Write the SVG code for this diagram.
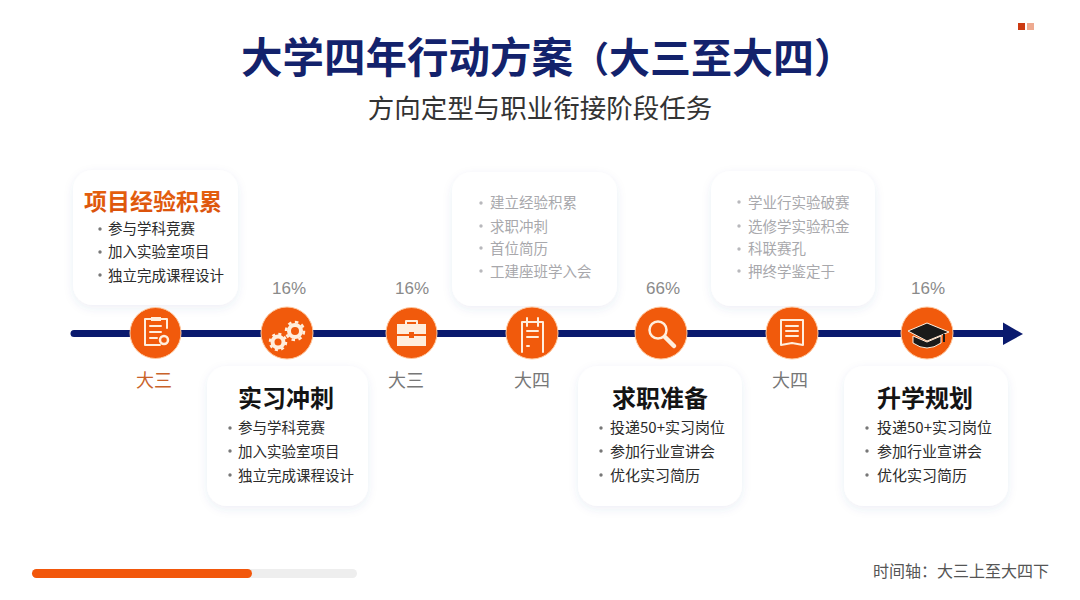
<svg xmlns="http://www.w3.org/2000/svg" width="1080" height="600" viewBox="0 0 1080 600">
<defs>
<style>
text{font-family:"Noto Sans CJK SC","Liberation Sans",sans-serif}
.card{fill:#fff;filter:url(#sh)}
.ct{font-size:24px;font-weight:700;fill:#141414;text-anchor:middle}
.it{font-size:14.5px;fill:#2b2b2b}
.wide{font-size:15px}
.dot{fill:#777}
.faded .it{fill:#a8a8ac}
.faded .dot{fill:#b8b8bc}
.n{fill:#f15a0c;stroke:#ffc9a0;stroke-width:1}
.pct{font-size:17px;fill:#8a8a8a;text-anchor:middle;font-family:"Liberation Sans",sans-serif}
.yr{font-size:18px;fill:#777;text-anchor:middle}
.ic{fill:none;stroke:#ffeedd;stroke-width:2;stroke-linejoin:round;stroke-linecap:round}
.if{fill:#ffeedd}
</style>
<filter id="sh" x="-15%" y="-15%" width="130%" height="135%"><feDropShadow dx="0" dy="3" stdDeviation="5" flood-color="#3a4a9a" flood-opacity="0.09"/></filter>
<linearGradient id="tg" x1="0" y1="0" x2="0" y2="1"><stop offset="0" stop-color="#e8640f"/><stop offset="1" stop-color="#d9500a"/></linearGradient>
</defs>
<rect width="1080" height="600" fill="#fff"/>
<g id="header">
<text x="241" y="73" font-size="41.500" font-weight="700" fill="#13226c">大学四年行动方案<tspan font-size="36">（</tspan><tspan font-size="41">大三至大四）</tspan></text>
<text x="540" y="118" font-size="26.500" fill="#333" text-anchor="middle">方向定型与职业衔接阶段任务</text>
<rect x="1018" y="23" width="7" height="7" fill="#cc3a12"/><rect x="1027" y="23" width="7" height="7" fill="#eeaa90"/>
</g>
<g id="connectors">
<line x1="74" y1="333.500" x2="1006" y2="333.500" stroke="#0a1a6e" stroke-width="7" stroke-linecap="round"/>
<path d="M1003 322.500L1023 334L1003 345Z" fill="#0a1a6e"/>
</g>
<g id="card-1">
<rect class="card" x="73" y="170" width="165" height="135" rx="20"/>
<text x="153" y="210" font-size="23" font-weight="700" fill="url(#tg)" text-anchor="middle">项目经验积累</text>
<circle class="dot" cx="100" cy="229" r="1.700"/><text class="it" x="108" y="234">参与学科竞赛</text>
<circle class="dot" cx="100" cy="252" r="1.700"/><text class="it" x="108" y="257">加入实验室项目</text>
<circle class="dot" cx="100" cy="275" r="1.700"/><text class="it" x="108" y="281">独立完成课程设计</text>
</g>
<g id="card-2">
<rect class="card" x="207" y="366" width="161" height="140" rx="20"/>
<text class="ct" x="286" y="407">实习冲刺</text>
<circle class="dot" cx="230" cy="428" r="1.700"/><text class="it" x="238" y="433">参与学科竞赛</text>
<circle class="dot" cx="230" cy="451" r="1.700"/><text class="it" x="238" y="457">加入实验室项目</text>
<circle class="dot" cx="230" cy="475" r="1.700"/><text class="it" x="238" y="481">独立完成课程设计</text>
</g>
<g id="card-3" class="faded">
<rect class="card" x="452" y="172" width="165" height="134" rx="20"/>
<circle class="dot" cx="481" cy="203" r="1.700"/><text class="it" x="490" y="208">建立经验积累</text>
<circle class="dot" cx="481" cy="226" r="1.700"/><text class="it" x="490" y="232">求职冲刺</text>
<circle class="dot" cx="481" cy="248" r="1.700"/><text class="it" x="490" y="254">首位简历</text>
<circle class="dot" cx="481" cy="271" r="1.700"/><text class="it" x="490" y="277">工建座班学入会</text>
</g>
<g id="card-4">
<rect class="card" x="578" y="366" width="164" height="140" rx="20"/>
<text class="ct" x="660" y="407">求职准备</text>
<circle class="dot" cx="601" cy="428" r="1.700"/><text class="it wide" x="610" y="433">投递50+实习岗位</text>
<circle class="dot" cx="601" cy="451" r="1.700"/><text class="it wide" x="610" y="457">参加行业宣讲会</text>
<circle class="dot" cx="601" cy="475" r="1.700"/><text class="it wide" x="610" y="481">优化实习简历</text>
</g>
<g id="card-5" class="faded">
<rect class="card" x="711" y="171" width="164" height="135" rx="20"/>
<circle class="dot" cx="739" cy="202" r="1.700"/><text class="it" x="748" y="208">学业行实验破赛</text>
<circle class="dot" cx="739" cy="226" r="1.700"/><text class="it" x="748" y="232">选修学实验积金</text>
<circle class="dot" cx="739" cy="249" r="1.700"/><text class="it" x="748" y="254">科联赛孔</text>
<circle class="dot" cx="739" cy="271" r="1.700"/><text class="it" x="748" y="277">押终学鉴定于</text>
</g>
<g id="card-6">
<rect class="card" x="844" y="366" width="164" height="140" rx="20"/>
<text class="ct" x="925" y="407">升学规划</text>
<circle class="dot" cx="867" cy="428" r="1.700"/><text class="it wide" x="877" y="433">投递50+实习岗位</text>
<circle class="dot" cx="867" cy="451" r="1.700"/><text class="it wide" x="877" y="457">参加行业宣讲会</text>
<circle class="dot" cx="867" cy="475" r="1.700"/><text class="it wide" x="877" y="481">优化实习简历</text>
</g>
<g id="node-1">
<circle class="n" cx="155.500" cy="333" r="25.500"/>
<path class="ic" d="M167 328V319H145V345H160M150 326H161M150 332H161M150 338H157"/>
<rect class="if" x="151" y="317" width="10" height="4"/>
<circle cx="164" cy="340" r="4" fill="none" stroke="#ffeedd" stroke-width="2.500"/>
<text class="yr" x="154" y="387" style="fill:#c9622a">大三</text>
</g>
<g id="node-2">
<circle class="n" cx="287" cy="333" r="26"/>
<circle cx="278" cy="342" r="5.500" fill="none" stroke="#ffeedd" stroke-width="4"/>
<circle cx="278" cy="342" r="8" fill="none" stroke="#ffeedd" stroke-width="2.500" stroke-dasharray="3 3.300"/>
<circle cx="295" cy="331" r="6" fill="none" stroke="#ffeedd" stroke-width="4"/>
<circle cx="295" cy="331" r="9" fill="none" stroke="#ffeedd" stroke-width="2.500" stroke-dasharray="3.500 3.500"/>
<text class="pct" x="289" y="294">16%</text>
</g>
<g id="node-3">
<circle class="n" cx="411.500" cy="333" r="25.500"/>
<path class="ic" d="M406 324V321H417V324"/>
<path class="if" d="M397 324H426V334H414V332H409V334H397ZM397 336H409V338H414V336H426V346H397Z"/>
<text class="pct" x="412" y="294">16%</text>
<text class="yr" x="406" y="387">大三</text>
</g>
<g id="node-4">
<circle class="n" cx="532" cy="333" r="26"/>
<path class="ic" d="M522 352V322H543V352M527 318V326M538 318V326M527 331H538M527 337H538M527 346H529"/>
<text class="yr" x="532" y="387">大四</text>
</g>
<g id="node-5">
<circle class="n" cx="661" cy="333" r="26"/>
<circle cx="658" cy="330" r="8.500" fill="none" stroke="#ffeedd" stroke-width="2.500"/>
<path d="M665 337L674 346" stroke="#ffeedd" stroke-width="4.500" stroke-linecap="round"/>
<text class="pct" x="663" y="294">66%</text>
</g>
<g id="node-6">
<circle class="n" cx="792" cy="333" r="26"/>
<path class="ic" d="M781 320H803V345L792 343L781 345ZM786 326H798M786 331H798M786 336H798"/>
<text class="yr" x="790" y="387">大四</text>
</g>
<g id="node-7">
<circle class="n" cx="927" cy="333" r="26"/>
<path d="M913 336V343Q927 353 941 343V336L927 342Z" fill="#1a1a1a" stroke="#ffeedd" stroke-width="1"/>
<path d="M908 331L927 323L949 332L927 341Z" fill="#1a1a1a" stroke="#ffeedd" stroke-width="1"/>
<path d="M944 334V342" stroke="#1a1a1a" stroke-width="2"/>
<text class="pct" x="928" y="294">16%</text>
</g>
<g id="footer">
<rect x="32" y="569" width="325" height="9" rx="4.500" fill="#eeeeee"/>
<rect x="32" y="569" width="220" height="9" rx="4.500" fill="#f2570b"/>
<text x="873" y="577" font-size="16" fill="#555">时间轴：大三上至大四下</text>
</g>
</svg>
